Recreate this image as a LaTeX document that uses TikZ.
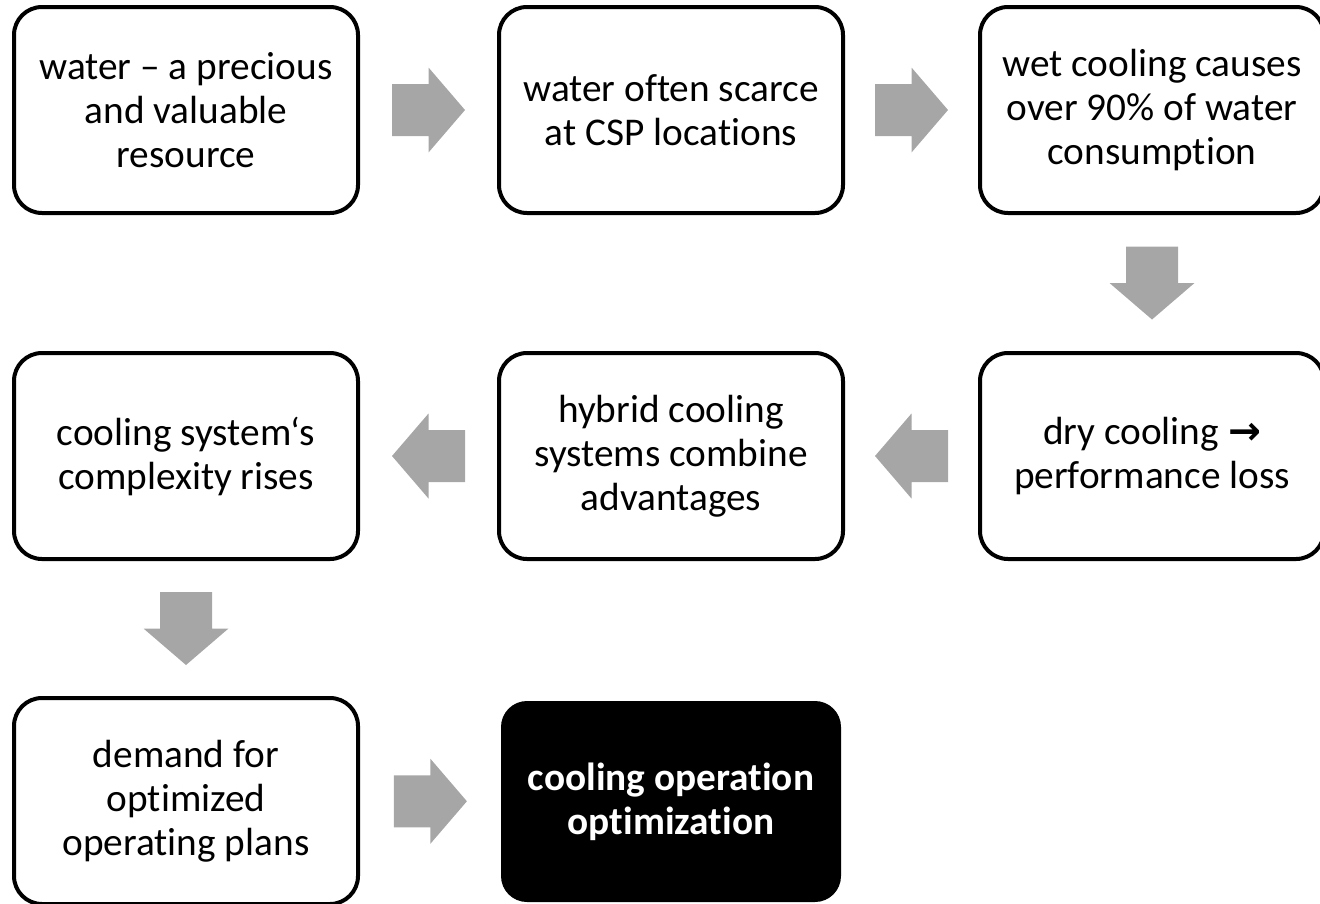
\documentclass[tikz,border=0pt]{standalone}
\usepackage{fontspec}
\setmainfont{Carlito}[Ligatures={NoCommon,NoRare,NoContextual}]
\newfontfamily\symf{DejaVu Sans}
\usetikzlibrary{calc}
\definecolor{arrowgray}{HTML}{A6A6A6}
\begin{document}
\begin{tikzpicture}[x=1pt,y=-1pt,
  box/.style={draw=black, line width=4pt, rounded corners=28pt, minimum width=344pt, minimum height=206pt,
    align=center, inner sep=0pt, fill=white, font=\fontsize{39.3}{44}\selectfont},
  finalbox/.style={fill=black, draw=none, rounded corners=26pt, minimum width=340pt, minimum height=201pt,
    align=center, inner sep=0pt, text=white, font=\fontsize{39.3}{44}\selectfont\bfseries},
  blockarrow/.pic={\fill[arrowgray] (-36.5,-26) -- (0,-26) -- (0,-42.5) -- (36.5,0) -- (0,42.5) -- (0,26) -- (-36.5,26) -- cycle;}]
\useasboundingbox (0,0) rectangle (1320,903);
\node[box] (b1) at (186,110) {water – a precious\\and valuable\\resource};
\node[box] (b2) at (671,110) {water often scarce\\at CSP locations};
\node[box] (b3) at (1152,110) {wet cooling causes\\over 90\% of water\\consumption};
\node[box] (b6) at (1152,456) {dry cooling {\symf\bfseries →}\\performance loss};
\node[box] (b5) at (671,456) {hybrid cooling\\systems combine\\advantages};
\node[box] (b4) at (186,456) {cooling system‘s\\complexity rises};
\node[box] (b7) at (186,801) {demand for\\optimized\\operating plans};
\node[finalbox] (b8) at (671,801.5) {cooling operation\\optimization};
\pic at ($(b1.east)!0.5!(b2.west)$) {blockarrow};
\pic at ($(b2.east)!0.5!(b3.west)$) {blockarrow};
\pic[rotate=-90] at ($(b3.south)!0.5!(b6.north)$) {blockarrow};
\pic[rotate=180] at ($(b6.west)!0.5!(b5.east)$) {blockarrow};
\pic[rotate=180] at ($(b5.west)!0.5!(b4.east)$) {blockarrow};
\pic[rotate=-90] at ($(b4.south)!0.5!(b7.north)$) {blockarrow};
\pic at ($(b7.east)!0.5!(b8.west)$) {blockarrow};
\end{tikzpicture}
\end{document}
